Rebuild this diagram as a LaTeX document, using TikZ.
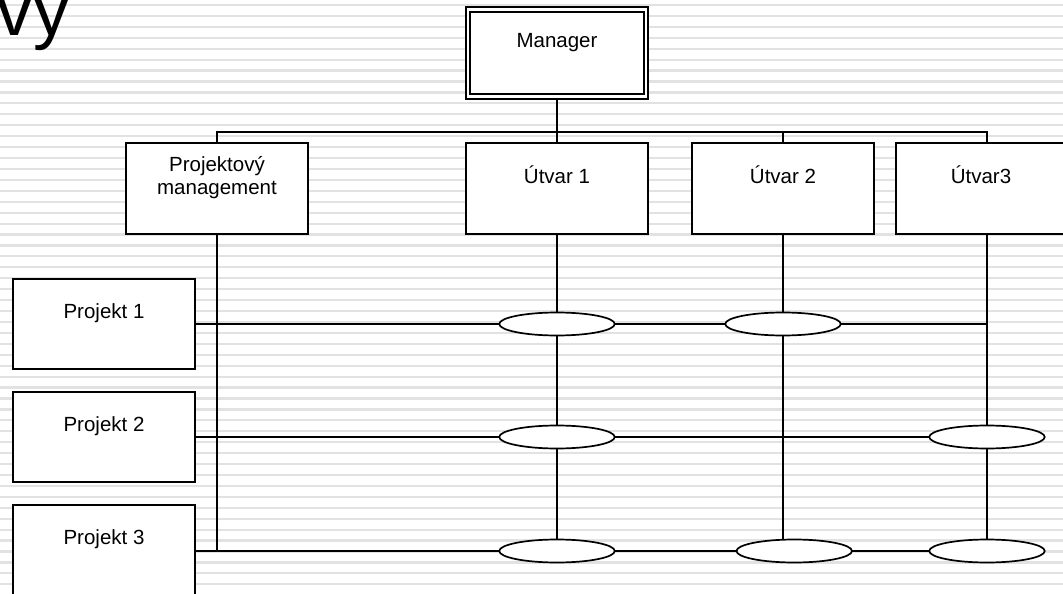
\documentclass[tikz,border=0pt]{standalone}
\usepackage{fontspec}
\setmainfont{Liberation Sans}
\usetikzlibrary{shapes.geometric,calc}
\definecolor{stripegray}{RGB}{226,226,226}
\tikzset{
  box/.style={draw, line width=2pt, fill=white, minimum width=182pt, minimum height=91pt, inner sep=0pt, outer sep=0pt, anchor=north west},
  oval/.style={ellipse, draw, line width=1.7pt, fill=white, minimum width=115.5pt, minimum height=23pt, inner sep=0pt, outer sep=0pt},
  wire/.style={line width=2pt},
  lbl/.style={font=\fontsize{20.5}{23.5}\selectfont, inner sep=0pt, anchor=base},
  stripe/.style={line width=2.2pt, draw=stripegray}
}
\begin{document}
\begin{tikzpicture}[x=1pt,y=-1pt]
\useasboundingbox (0,0) rectangle (1063,594);
\fill[white] (0,0) rectangle (1063,594);
\foreach \i in {0,...,53} \draw[stripe] (0,{5+10.93*\i}) -- (1063,{5+10.93*\i});

% title fragment
\node[font=\fontsize{73}{80}\selectfont, inner sep=0pt, anchor=base west] (title) at (-3.4,36) {vy};

% boxes
\node[box, minimum height=92pt, line width=1.5pt] (mgr) at (466,7) {};
\draw[line width=2pt] ($(mgr.north west)+(4,5)$) rectangle ($(mgr.south east)+(-4,-5)$);
\node[box] (pm) at (126,143) {};
\node[box] (u1) at (466,143) {};
\node[box] (u2) at (692,143) {};
\node[box] (u3) at (896,143) {};
\node[box, minimum height=90pt] (p1) at (13,279) {};
\node[box, minimum height=90pt] (p2) at (13,392) {};
\node[box, minimum height=92pt] (p3) at (13,505) {};

% labels
\node[lbl] at ($(mgr.north)+(0,40.5)$) {Manager};
\node[lbl] at ($(pm.north)+(0,28.6)$) {Projektový};
\node[lbl] at ($(pm.north)+(0,51.8)$) {management};
\node[lbl] at ($(u1.north)+(0,40.2)$) {Útvar 1};
\node[lbl] at ($(u2.north)+(0,40.2)$) {Útvar 2};
\node[lbl] at ($(u3.north)+(-6,40.2)$) {Útvar3};
\node[lbl] at ($(p1.north)+(0,39.3)$) {Projekt 1};
\node[lbl] at ($(p2.north)+(0,39.3)$) {Projekt 2};
\node[lbl] at ($(p3.north)+(0,39.3)$) {Projekt 3};

% ellipses
\node[oval] (e11) at (u1.south |- p1.east) {};
\node[oval] (e12) at (u2.south |- p1.east) {};
\node[oval] (e21) at (u1.south |- p2.east) {};
\node[oval] (e23) at (u3.south |- p2.east) {};
\node[oval] (e31) at (u1.south |- p3.east) {};
\node[oval] (e32) at ($(u2.south |- p3.east)+(11.2,0)$) {};
\node[oval] (e33) at (u3.south |- p3.east) {};

% bus
\coordinate (bus) at ($(mgr.south)+(0,33)$);
\draw[wire] (mgr.south) -- (bus);
\draw[wire] (pm.north) |- (bus) -| (u3.north);
\draw[wire] (u1.north) -- (u1.north |- bus);
\draw[wire] (u2.north) -- (u2.north |- bus);

% project management vertical
\draw[wire] (pm.south) -- (pm.south |- p3.east);

% rows
\draw[wire] (p1.east) -- (e11.west);
\draw[wire] (e11.east) -- (e12.west);
\draw[wire] (e12.east) -- (e12.east -| u3.south);
\draw[wire] (p2.east) -- (e21.west);
\draw[wire] (e21.east) -- (e23.west);
\draw[wire] (p3.east) -- (e31.west);
\draw[wire] (e31.east) -- (e32.west);
\draw[wire] (e32.east) -- (e33.west);

% columns
\draw[wire] (u1.south) -- (e11.north);
\draw[wire] (e11.south) -- (e21.north);
\draw[wire] (e21.south) -- (e31.north);
\draw[wire] (u2.south) -- (e12.north);
\draw[wire] (e12.south) -- ($(e12.south |- e32.north)+(0,0.6)$);
\draw[wire] (u3.south) -- (e12.east -| u3.south) -- (e23.north);
\draw[wire] (e23.south) -- (e33.north);
\end{tikzpicture}
\end{document}
